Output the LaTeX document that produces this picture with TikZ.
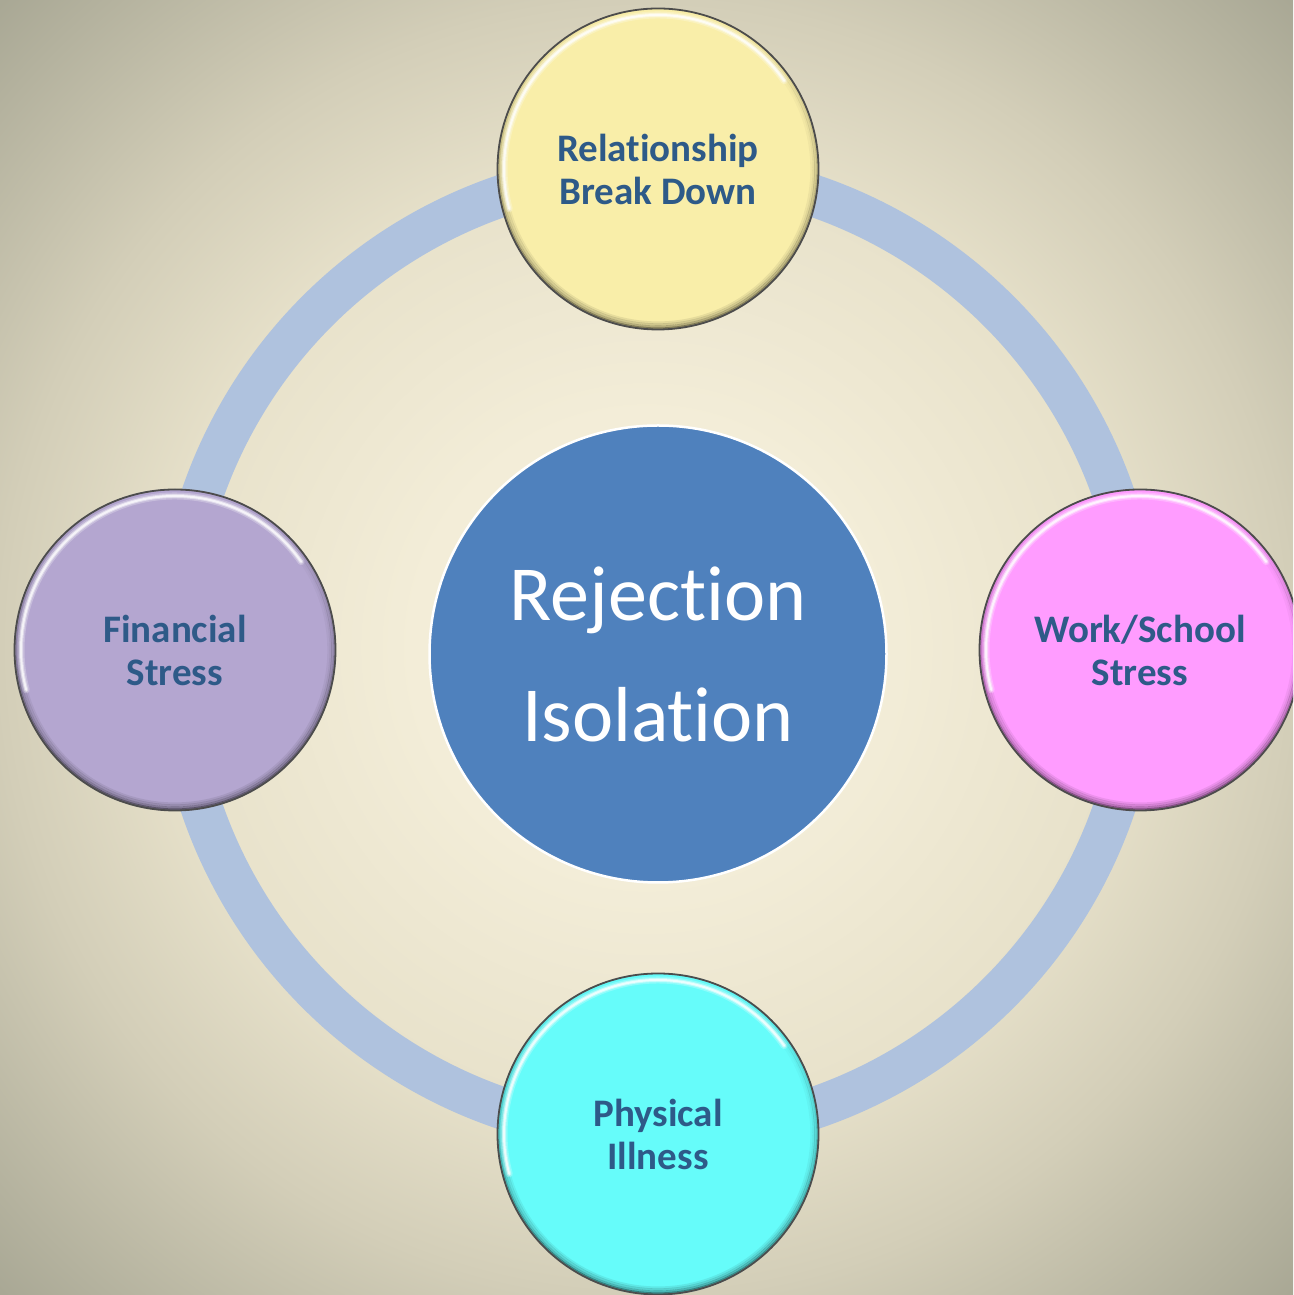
\documentclass[tikz,border=0pt]{standalone}
\usepackage{fontspec}
\setmainfont{Carlito}[Ligatures={NoCommon}]
\usetikzlibrary{fadings}
\definecolor{bgin}{HTML}{F3EDD8}
\definecolor{bgmid}{HTML}{E8E2CB}
\definecolor{bgedge}{HTML}{D3CEB8}
\definecolor{bgout}{HTML}{A8A794}
\definecolor{ringblue}{HTML}{AFC2DE}
\definecolor{coreblue}{HTML}{4F81BD}
\definecolor{labelblue}{HTML}{2E5A88}
\definecolor{relfill}{HTML}{F9EEA9}
\definecolor{finfill}{HTML}{B4A6D0}
\definecolor{workfill}{HTML}{FF9CFF}
\definecolor{physfill}{HTML}{66FCFA}
% radial backdrop: 25bp reaches the middle of each page edge
\pgfdeclareradialshading{backdrop}{\pgfpoint{0bp}{0bp}}{%
  color(0bp)=(bgin); color(9bp)=(bgin); color(18bp)=(bgmid);
  color(25bp)=(bgedge); color(35.5bp)=(bgout); color(50bp)=(bgout)}
\tikzset{
  ring/.style={draw=ringblue, line width=42pt},
  satellite/.style={circle, minimum size=322pt, inner sep=0pt, align=center,
    text=labelblue, font=\fontsize{39}{43}\selectfont\bfseries},
  rim/.style={draw=black!70, line width=1.8pt},
  hubdisc/.style={circle, minimum size=457pt, inner sep=0pt, align=center,
    fill=coreblue, draw=white, line width=2.5pt, text=white,
    font=\fontsize{78}{121}\selectfont}
}
\begin{document}
\begin{tikzpicture}[x=1pt,y=1pt]
  \useasboundingbox (0,0) rectangle (1293,1295);
  \begin{scope}
    \clip (0,0) rectangle (1293,1295);
    % backdrop
    \fill[shading=backdrop] (0,0) rectangle (1293,1295);

    % cycle ring through the four satellites
    \coordinate (hub) at (658,643);
    \draw[ring] (hub) circle (482);

    % central disc
    \node[hubdisc] (core) at (658,641) {Rejection\\Isolation};

    % satellites
    \node[satellite, fill=relfill]  (rel)  at (658,1126) {Relationship\\Break Down};
    \node[satellite, fill=finfill]  (fin)  at (175,645)  {Financial\\Stress};
    \node[satellite, fill=workfill] (work) at (1140,645) {Work/School\\Stress};
    \node[satellite, fill=physfill] (phys) at (658,161)  {Physical\\Illness};

    % glossy bevel on each satellite
    \foreach \n in {rel,fin,work,phys} {
      % darker inner edge, strongest towards the bottom
      \foreach \k/\o in {1.5/0.45, 3.5/0.28, 5.5/0.16, 7.5/0.08} {
        \draw[black, opacity=\o, line width=2.2pt, path fading=north]
          (\n.center) circle (161-\k);
      }
      % light reflection along the upper inner edge
      \foreach \w/\o in {7/0.25, 4/0.45, 2/0.7} {
        \draw[white, opacity=\o, line width=\w pt, line cap=round]
          ([shift={(35:154)}]\n.center) arc (35:195:154);
      }
      \draw[rim] (\n.center) circle (160.5);
    }
  \end{scope}
\end{tikzpicture}
\end{document}
